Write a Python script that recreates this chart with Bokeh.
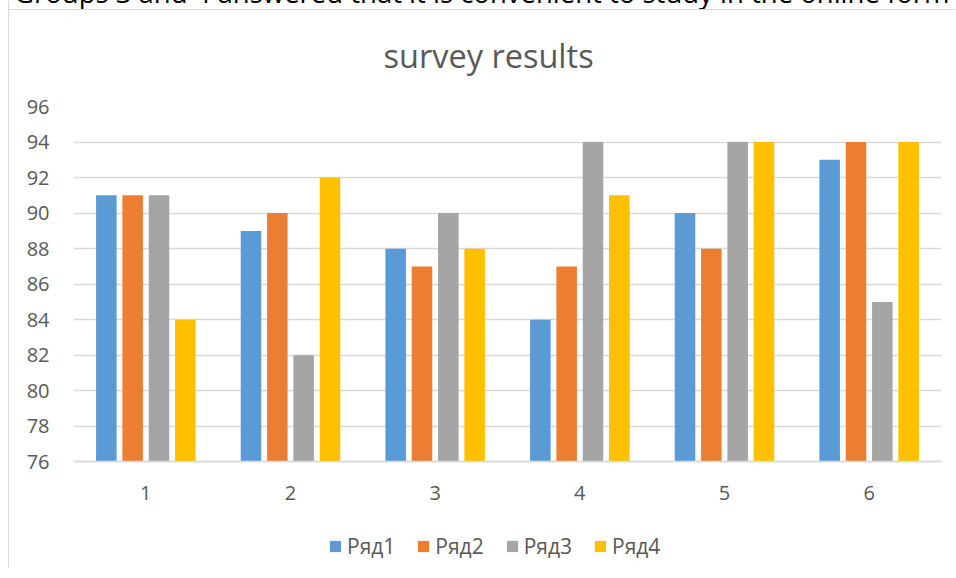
from bokeh.plotting import figure
from bokeh.layouts import column
from bokeh.models import ColumnDataSource, FactorRange, Range1d, Legend, LegendItem, FixedTicker, Div
from bokeh.transform import dodge
from bokeh.embed import file_html
from bokeh.resources import INLINE

categories = ["1", "2", "3", "4", "5", "6"]
series_names = ["Ряд1", "Ряд2", "Ряд3", "Ряд4"]
s1 = [91, 89, 88, 84, 90, 93]
s2 = [91, 90, 87, 87, 88, 94]
s3 = [91, 82, 90, 94, 94, 85]
s4 = [84, 92, 88, 91, 94, 94]
y_ticks = [76, 78, 80, 82, 84, 86, 88, 90, 92, 94, 96]
colors = ["#5B9BD5", "#ED7D31", "#A5A5A5", "#FFC000"]
title_text = "survey results"
header_text = "Groups 3 and 4 answered that it is convenient to study in the online form"

FONT = "Open Sans"
TXT = "#595959"

src = ColumnDataSource(dict(cat=categories, s1=s1, s2=s2, s3=s3, s4=s4))

header = Div(
    text=header_text, width=948, height=34,
    styles={"font-family": FONT, "font-size": "27.5px", "line-height": "34px",
            "white-space": "nowrap", "color": "#000000",
            "margin-top": "-24px", "margin-left": "14px"},
)

# frame reaches below the 76 baseline so the legend can sit inside it
p = figure(
    frame_width=867, frame_height=462,
    x_range=FactorRange(*categories, range_padding=0),
    y_range=Range1d(70, 96),
    output_backend="svg", toolbar_location=None,
    min_border_left=64, min_border_right=15,
    min_border_top=105, min_border_bottom=0,
)
p.styles = {"border-left": "1px solid #d9d9d9",
            "background": "linear-gradient(#d9d9d9, #d9d9d9) no-repeat 0 8px / 100% 1px",
            "margin-left": "8px", "margin-top": "-14px"}
p.outline_line_color = None
p.background_fill_color = "white"
p.border_fill_color = None

offsets = [-0.273, -0.091, 0.091, 0.273]
renderers = []
for key, off, col in zip(["s1", "s2", "s3", "s4"], offsets, colors):
    r = p.vbar(x=dodge("cat", off, range=p.x_range), top=key, bottom=y_ticks[0], width=0.142,
               source=src, fill_color=col, line_color=None)
    renderers.append(r)

# title
p.title.text = title_text
p.title.align = "left"
p.title.offset = 310
p.title.text_font = FONT
p.title.text_font_size = "32.5px"
p.title.text_font_style = "normal"
p.title.text_color = TXT
p.title.standoff = 58

# y axis
p.yaxis.ticker = FixedTicker(ticks=y_ticks)
p.yaxis.axis_line_color = None
p.yaxis.major_tick_line_color = None
p.yaxis.minor_tick_line_color = None
p.yaxis.major_label_text_font = FONT
p.yaxis.major_label_text_font_size = "20px"
p.yaxis.major_label_text_color = TXT
p.yaxis.major_label_standoff = 18

# x axis, drawn on the 76 baseline
p.xaxis.fixed_location = y_ticks[0]
p.xaxis.axis_line_color = "#d9d9d9"
p.xaxis.axis_line_width = 1.3
p.xaxis.major_tick_line_color = None
p.xaxis.minor_tick_line_color = None
p.xaxis.major_label_text_font = FONT
p.xaxis.major_label_text_font_size = "20px"
p.xaxis.major_label_text_color = TXT
p.xaxis.major_label_standoff = 18

p.xgrid.grid_line_color = None
p.ygrid.grid_line_color = "#d9d9d9"
p.ygrid.grid_line_width = 1.3

legend = Legend(
    items=[LegendItem(label=n, renderers=[r]) for n, r in zip(series_names, renderers)],
    orientation="horizontal", location=(255, 8),
    label_text_font=FONT, label_text_font_size="21px", label_text_color=TXT,
    glyph_width=14, glyph_height=14, label_standoff=5, spacing=21,
    padding=0, margin=0, border_line_color=None, background_fill_alpha=0,
)
p.add_layout(legend, "center")

layout = column(header, p)
open("out.html", "w").write(file_html(layout, INLINE))
